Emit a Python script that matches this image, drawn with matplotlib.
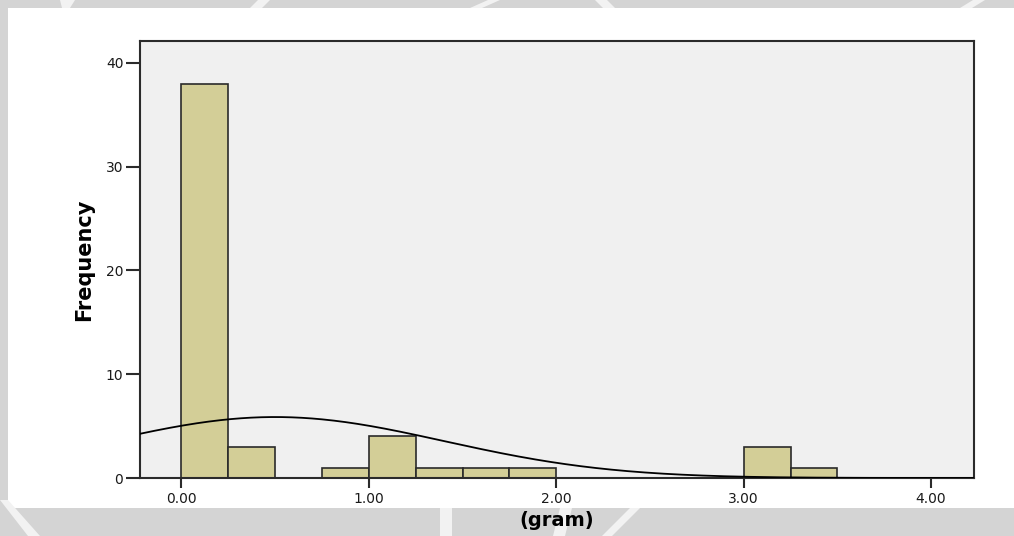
import numpy as np
import matplotlib
matplotlib.use("Agg")
import matplotlib.pyplot as plt
from matplotlib.patches import Rectangle, Polygon

# histogram counts per 0.25 g bin
bin_starts = [0.00, 0.25, 0.50, 0.75, 1.00, 1.25, 1.50, 1.75,
              2.00, 2.25, 2.50, 2.75, 3.00, 3.25]
counts = [38, 3, 0, 1, 4, 1, 1, 1, 0, 0, 0, 0, 3, 1]
bin_width = 0.25

# fitted normal curve parameters
mean_g = 0.50
sd_g = 0.90

x_ticks = [0.0, 1.0, 2.0, 3.0, 4.0]
x_ticklabels = ["0.00", "1.00", "2.00", "3.00", "4.00"]
y_ticks = [0, 10, 20, 30, 40]

W, H = 1014, 536
fig = plt.figure(figsize=(W / 100, H / 100), dpi=100)
fig.patch.set_facecolor("#d4d4d4")

# white page area with light strokes in the grey border
fig.patches.append(Rectangle((8 / W, 1 - 508 / H), 1 - 8 / W, 500 / H,
                             transform=fig.transFigure, facecolor="white",
                             edgecolor="none", zorder=-3))
for pts in [[(0, 500), (8, 500), (40, 536), (28, 536)],
            [(60, 0), (75, 0), (70, 8), (62, 8)],
            [(250, 8), (262, 8), (270, 0), (258, 0)],
            [(470, 8), (482, 8), (500, 0), (488, 0)],
            [(595, 0), (607, 0), (615, 8), (603, 8)],
            [(960, 8), (972, 8), (985, 0), (973, 0)],
            [(440, 508), (452, 508), (452, 536), (440, 536)],
            [(560, 508), (572, 508), (565, 536), (553, 536)],
            [(630, 508), (640, 508), (612, 536), (602, 536)]]:
    fig.patches.append(Polygon([(px / W, 1 - py / H) for px, py in pts],
                               closed=True, transform=fig.transFigure,
                               facecolor="#f2f2f2", edgecolor="none", zorder=-2))

ax = fig.add_axes([140 / W, 1 - 478 / H, 834 / W, 437 / H])
ax.set_facecolor("#f0f0f0")

ax.bar(bin_starts, counts, width=bin_width, align="edge",
       color="#d3ce97", edgecolor="#2a2a2a", linewidth=1.2, zorder=2)

xs = np.linspace(-0.25, 4.25, 500)
n_total = sum(counts)
curve = n_total * bin_width * np.exp(-0.5 * ((xs - mean_g) / sd_g) ** 2) / (sd_g * np.sqrt(2 * np.pi))
ax.plot(xs, curve, color="black", lw=1.3, zorder=3)

ax.set_xlim(-0.221, 4.229)
ax.set_ylim(0, 42.1)
ax.set_xticks(x_ticks)
ax.set_xticklabels(x_ticklabels)
ax.set_yticks(y_ticks)

for s in ax.spines.values():
    s.set_color("#2b2b2b")
    s.set_linewidth(1.5)
ax.tick_params(axis="x", length=7, width=1.5, color="#2b2b2b", pad=3,
               labelsize=10, labelcolor="#1a1a1a")
ax.tick_params(axis="y", length=10, width=1.5, color="#2b2b2b", pad=2,
               labelsize=10, labelcolor="#1a1a1a")

ax.set_ylabel("Frequency", fontsize=15, fontweight="bold", labelpad=8)
fig.text((140 + 974) / 2 / W, 1 - 521 / H, "(gram)", ha="center", va="center",
         fontsize=14, fontweight="bold")

fig.savefig("out.png", dpi=100, facecolor=fig.get_facecolor())
